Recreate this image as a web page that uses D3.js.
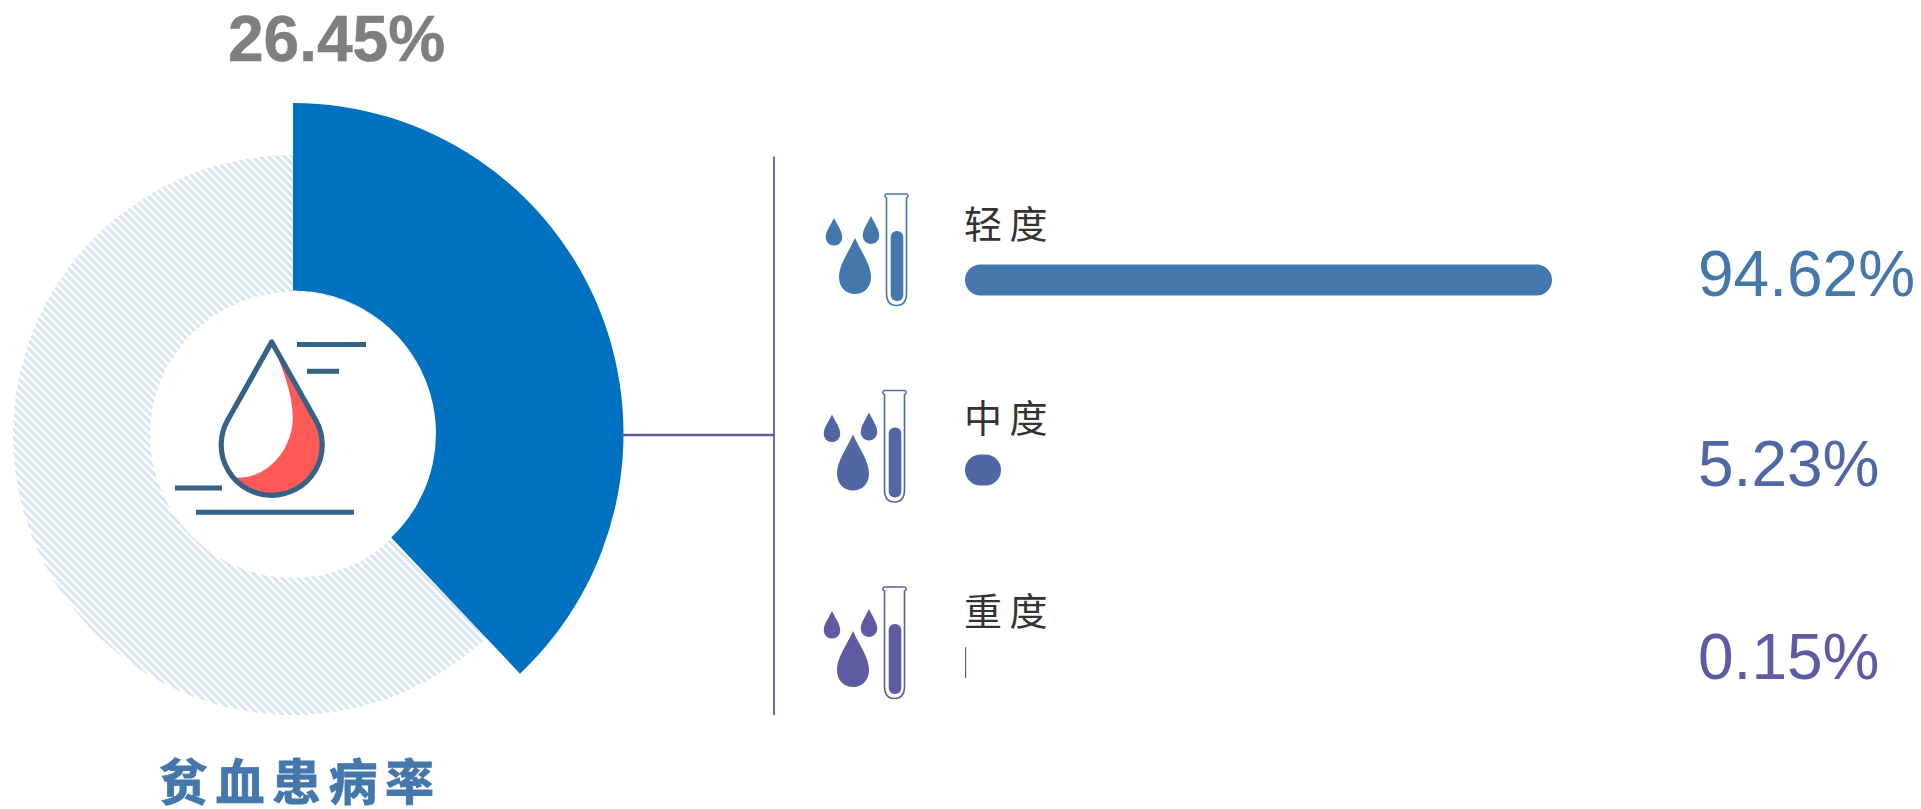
<!DOCTYPE html>
<html lang="zh">
<head>
<meta charset="utf-8">
<title>贫血患病率</title>
<script src="https://cdn.jsdelivr.net/npm/d3@7"></script>
<style>
  html, body { margin: 0; padding: 0; background: #fff; overflow: hidden; }
  svg { display: block; }
  text { font-family: "Liberation Sans", Arial, sans-serif; }
  .cjk { font-family: "Noto Sans CJK SC", sans-serif; }
</style>
</head>
<body>
<svg id="chart" width="1921" height="809"></svg>
<script>
// Anaemia prevalence and its breakdown by severity
const chartTitle = "贫血患病率";
const prevalence = 26.45;
const severityNames = ["轻度", "中度", "重度"];
const severityValues = [94.62, 5.23, 0.15];
const severityColors = ["#4477ab", "#5167a4", "#5f5ba3"];

const svg = d3.select("#chart");
const cx = 293, cy = 435;

// Hatched fill for the full ring behind the highlighted arc
const defs = svg.append("defs");
const hatch = defs.append("pattern")
  .attr("id", "ringHatch")
  .attr("patternUnits", "userSpaceOnUse")
  .attr("width", 5.66).attr("height", 5.66)
  .attr("patternTransform", "rotate(45)");
hatch.append("rect").attr("width", 5.66).attr("height", 2.83).attr("fill", "#d6e4f3")
  .attr("shape-rendering", "crispEdges");

const angle = d3.scaleLinear().domain([0, 69.7]).range([0, 2 * Math.PI]);
const ringArc = d3.arc();
const donut = svg.append("g").attr("transform", `translate(${cx},${cy})`);

donut.append("path")
  .attr("d", ringArc({ innerRadius: 143, outerRadius: 280, startAngle: 0, endAngle: 2 * Math.PI }))
  .attr("fill", "url(#ringHatch)");
donut.append("path")
  .attr("transform", "translate(0,-1.5)")
  .attr("d", ringArc({ innerRadius: 143, outerRadius: 330.5, startAngle: angle(0), endAngle: angle(prevalence) }))
  .attr("fill", "#0071c1");

svg.append("text")
  .attr("x", 336.5).attr("y", 61).attr("text-anchor", "middle")
  .attr("font-size", 64).attr("font-weight", 700).attr("fill", "#7f7f7f")
  .attr("stroke", "#7f7f7f").attr("stroke-width", 0.5)
  .text(prevalence.toFixed(2) + "%");

svg.append("text").attr("class", "cjk")
  .attr("x", 159).attr("y", 800)
  .attr("font-size", 49).attr("font-weight", 700).attr("letter-spacing", 7.5)
  .attr("fill", "#4477ab").attr("stroke", "#4477ab").attr("stroke-width", 0.9)
  .text(chartTitle);

// Blood-drop emblem in the centre of the ring
const emblem = svg.append("g");
const emblemDark = "#356287";
const dropOutline = "M271.7,342 L227.6,420.2 A50.5,50.5 0 1 0 315.8,420.2 Z";
emblem.append("path").attr("d", dropOutline).attr("fill", "#fff");
emblem.append("path")
  .attr("d", "M271.7,342 L315.8,420.2 A50.6,50.6 0 0 1 233,477.5 C262,480 286,458 292,428 C296,400 283,370 271.7,342 Z")
  .attr("fill", "#ff5a55");
emblem.append("path").attr("d", dropOutline)
  .attr("fill", "none").attr("stroke", emblemDark).attr("stroke-width", 5.2).attr("stroke-linejoin", "round");
const speedLines = [[297, 366, 344.5], [307, 339, 371.3], [175, 222, 488], [196, 354, 512.3]];
emblem.selectAll("line").data(speedLines).join("line")
  .attr("x1", d => d[0]).attr("x2", d => d[1])
  .attr("y1", d => d[2]).attr("y2", d => d[2])
  .attr("stroke", emblemDark).attr("stroke-width", 5);

// Leader and vertical divider
svg.append("line").attr("x1", 622).attr("x2", 774).attr("y1", 435).attr("y2", 435)
  .attr("stroke", "#5f5ba3").attr("stroke-width", 2.4);
svg.append("line").attr("x1", 774).attr("x2", 774).attr("y1", 156.5).attr("y2", 715)
  .attr("stroke", "#5f5ba3").attr("stroke-width", 1.8);

// Severity rows: icon, label, bar and value each sit on their own vertical rhythm
const barLength = d3.scalePow().exponent(0.964).domain([0, 94.62]).range([0, 587]);
const iconY = d3.scaleOrdinal().domain(severityNames).range([0, 196.5, 393]);
const iconX = d3.scaleOrdinal().domain(severityNames).range([0, -2, -2]);
const labelY = d3.scaleOrdinal().domain(severityNames).range([238, 431.5, 624.5]);
const barY = d3.scaleOrdinal().domain(severityNames).range([264.5, 454.5, 647]);
const valueY = d3.scaleOrdinal().domain(severityNames).range([296, 486, 679]);

function drop(x, top, bottom, w) {
  const h = bottom - top;
  return `M${x},${top} C${x + w * 0.45},${top + h * 0.28} ${x + w},${top + h * 0.48} ${x + w},${top + h * 0.7} ` +
    `C${x + w},${top + h * 0.88} ${x + w * 0.55},${bottom} ${x},${bottom} ` +
    `C${x - w * 0.55},${bottom} ${x - w},${top + h * 0.88} ${x - w},${top + h * 0.7} ` +
    `C${x - w},${top + h * 0.48} ${x - w * 0.45},${top + h * 0.28} ${x},${top} Z`;
}

const rows = svg.selectAll("g.row")
  .data(severityNames.map((name, i) => ({ name, value: severityValues[i], color: severityColors[i] })))
  .join("g").attr("class", "row");

const icons = rows.append("g").attr("transform", d => `translate(${iconX(d.name)},${iconY(d.name)})`);
icons.append("path").attr("d", drop(834, 218, 245.5, 8.2)).attr("fill", d => d.color);
icons.append("path").attr("d", drop(871, 216, 244, 8.2)).attr("fill", d => d.color);
icons.append("path").attr("d", drop(855, 238, 294, 16)).attr("fill", d => d.color);
icons.append("path")
  .attr("d", "M886.5,197 V293 C886.5,301 890,305.5 896.5,305.5 C903,305.5 906.5,301 906.5,293 V197")
  .attr("fill", "none").attr("stroke", d => d.color).attr("stroke-width", 1.6);
icons.append("path")
  .attr("d", "M886.5,197.5 C884,197.5 884.5,194 887,194 H906 C908.5,194 909,197.5 906.5,197.5")
  .attr("fill", "#fff").attr("stroke", d => d.color).attr("stroke-width", 1.5);
icons.append("rect").attr("x", 890.7).attr("y", 231).attr("width", 12.6).attr("height", 70).attr("rx", 6)
  .attr("fill", d => d.color);

rows.append("text").attr("class", "cjk")
  .attr("x", 964).attr("y", d => labelY(d.name))
  .attr("font-size", 38).attr("letter-spacing", 7.5).attr("fill", "#333")
  .text(d => d.name);

rows.append("rect")
  .attr("x", 965).attr("y", d => barY(d.name)).attr("height", 31)
  .attr("width", d => barLength(d.value))
  .attr("rx", d => Math.min(15.5, barLength(d.value) / 2))
  .attr("ry", d => Math.min(15.5, barLength(d.value) / 2))
  .attr("fill", d => d.color);

rows.append("text")
  .attr("x", 1698).attr("y", d => valueY(d.name))
  .attr("font-size", 64).attr("fill", d => d.color)
  .text(d => d.value.toFixed(2) + "%");
</script>
</body>
</html>
